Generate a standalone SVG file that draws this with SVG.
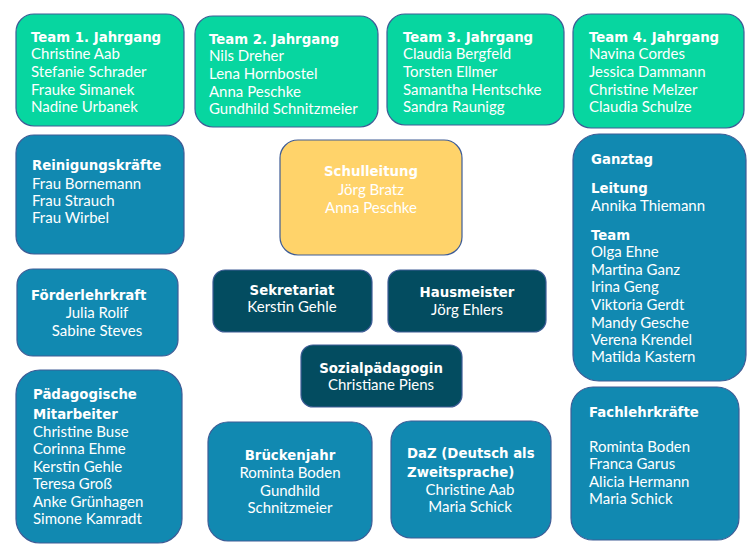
<svg xmlns="http://www.w3.org/2000/svg" width="754" height="551" viewBox="0 0 754 551">
<style>
.box{stroke:#3E5C96;stroke-width:1.2}
.g{fill:#07D6A0}
.b{fill:#1189B1}
.d{fill:#034C60}
.y{fill:#FFD36A}
text{font-family:Lato,"Open Sans","Liberation Sans",sans-serif;font-size:15px;fill:#fff}
.h{font-family:"DejaVu Sans","Liberation Sans",sans-serif;font-weight:bold;font-size:13.3px}
.c{text-anchor:middle}
</style>
<rect width="754" height="551" fill="#fff"/>
<g id="connectors"></g>
<g id="team1">
<rect class="box g" x="16" y="14" width="168" height="112" rx="18"/>
<text x="31" y="42" class="h">Team 1. Jahrgang</text>
<text x="31" y="59">Christine Aab</text>
<text x="31" y="77">Stefanie Schrader</text>
<text x="31" y="95">Frauke Simanek</text>
<text x="31" y="112">Nadine Urbanek</text>
</g>
<g id="team2">
<rect class="box g" x="195" y="16" width="183" height="111" rx="18"/>
<text x="209" y="44" class="h">Team 2. Jahrgang</text>
<text x="209" y="61">Nils Dreher</text>
<text x="209" y="79">Lena Hornbostel</text>
<text x="209" y="97">Anna Peschke</text>
<text x="209" y="114">Gundhild Schnitzmeier</text>
</g>
<g id="team3">
<rect class="box g" x="387" y="14" width="177" height="111" rx="18"/>
<text x="403" y="42" class="h">Team 3. Jahrgang</text>
<text x="403" y="59">Claudia Bergfeld</text>
<text x="403" y="77">Torsten Ellmer</text>
<text x="403" y="95">Samantha Hentschke</text>
<text x="403" y="112">Sandra Raunigg</text>
</g>
<g id="team4">
<rect class="box g" x="573" y="14" width="171" height="114" rx="18"/>
<text x="589" y="42" class="h">Team 4. Jahrgang</text>
<text x="589" y="59">Navina Cordes</text>
<text x="589" y="77">Jessica Dammann</text>
<text x="589" y="95">Christine Melzer</text>
<text x="589" y="112">Claudia Schulze</text>
</g>
<g id="reinigung">
<rect class="box b" x="16" y="135" width="168" height="119" rx="18"/>
<text x="32" y="170" class="h">Reinigungskräfte</text>
<text x="32" y="189">Frau Bornemann</text>
<text x="32" y="206">Frau Strauch</text>
<text x="32" y="223">Frau Wirbel</text>
</g>
<g id="schulleitung">
<rect class="box y" x="280" y="140" width="182" height="115" rx="18"/>
<text x="371" y="176" class="h c">Schulleitung</text>
<text x="371" y="195" class="c">Jörg Bratz</text>
<text x="371" y="213" class="c">Anna Peschke</text>
</g>
<g id="ganztag">
<rect class="box b" x="573" y="134" width="173" height="247" rx="26"/>
<text x="591" y="164" class="h">Ganztag</text>
<text x="591" y="193" class="h">Leitung</text>
<text x="591" y="211">Annika Thiemann</text>
<text x="591" y="240" class="h">Team</text>
<text x="591" y="257">Olga Ehne</text>
<text x="591" y="275">Martina Ganz</text>
<text x="591" y="292">Irina Geng</text>
<text x="591" y="310">Viktoria Gerdt</text>
<text x="591" y="328">Mandy Gesche</text>
<text x="591" y="345">Verena Krendel</text>
<text x="591" y="362">Matilda Kastern</text>
</g>
<g id="foerder">
<rect class="box b" x="17" y="269" width="161" height="87" rx="16"/>
<text x="31" y="300" class="h">Förderlehrkraft</text>
<text x="97" y="318" class="c">Julia Rolif</text>
<text x="97" y="336" class="c">Sabine Steves</text>
</g>
<g id="sekretariat">
<rect class="box d" x="213" y="270" width="159" height="62" rx="12"/>
<text x="292" y="295" class="h c">Sekretariat</text>
<text x="292" y="312" class="c">Kerstin Gehle</text>
</g>
<g id="hausmeister">
<rect class="box d" x="388" y="270" width="158" height="62" rx="12"/>
<text x="467" y="297" class="h c">Hausmeister</text>
<text x="467" y="315" class="c">Jörg Ehlers</text>
</g>
<g id="sozial">
<rect class="box d" x="301" y="345" width="161" height="62" rx="12"/>
<text x="381" y="373" class="h c">Sozialpädagogin</text>
<text x="381" y="390" class="c">Christiane Piens</text>
</g>
<g id="paedagogisch">
<rect class="box b" x="16" y="370" width="166" height="173" rx="24"/>
<text x="33" y="399" class="h">Pädagogische</text>
<text x="33" y="419" class="h">Mitarbeiter</text>
<text x="33" y="437">Christine Buse</text>
<text x="33" y="454">Corinna Ehme</text>
<text x="33" y="472">Kerstin Gehle</text>
<text x="33" y="489">Teresa Groß</text>
<text x="33" y="507">Anke Grünhagen</text>
<text x="33" y="524">Simone Kamradt</text>
</g>
<g id="brueckenjahr">
<rect class="box b" x="208" y="422" width="164" height="119" rx="20"/>
<text x="290" y="460" class="h c">Brückenjahr</text>
<text x="290" y="478" class="c">Rominta Boden</text>
<text x="290" y="496" class="c">Gundhild</text>
<text x="290" y="513" class="c">Schnitzmeier</text>
</g>
<g id="daz">
<rect class="box b" x="391" y="421" width="160" height="117" rx="20"/>
<text x="407" y="458" class="h">DaZ (Deutsch als</text>
<text x="407" y="477" class="h">Zweitsprache)</text>
<text x="470" y="495" class="c">Christine Aab</text>
<text x="470" y="512" class="c">Maria Schick</text>
</g>
<g id="fachlehr">
<rect class="box b" x="571" y="387" width="168" height="153" rx="22"/>
<text x="589" y="417" class="h">Fachlehrkräfte</text>
<text x="589" y="452">Rominta Boden</text>
<text x="589" y="469">Franca Garus</text>
<text x="589" y="487">Alicia Hermann</text>
<text x="589" y="504">Maria Schick</text>
</g>
</svg>
